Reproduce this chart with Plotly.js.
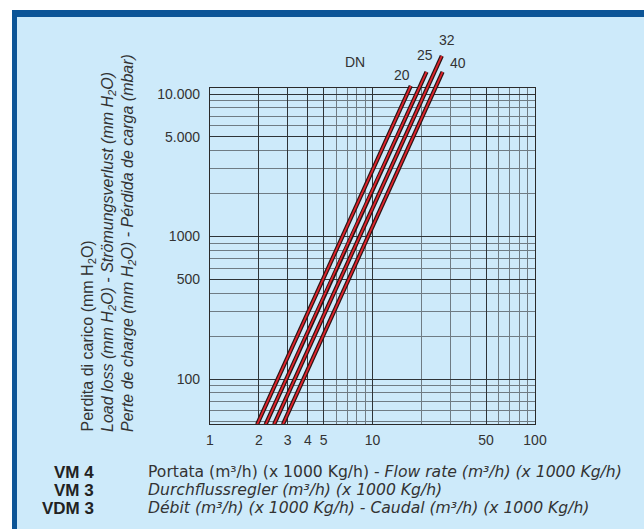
<!DOCTYPE html>
<html>
<head>
<meta charset="utf-8">
<script src="https://cdn.plot.ly/plotly-3.0.1.min.js"></script>
<style>html,body{margin:0;padding:0;background:#fff;}#chart{width:644px;height:529px;}</style>
</head>
<body>
<div id="chart"></div>
<script>
// Flow rate (m3/h), with the matching load loss (mm H2O)
const flowDN20 = [1.95, 5.71, 17.2];
const lossDN20 = [48, 718, 11380];
const flowDN25 = [2.20, 6.46, 21.5];
const lossDN25 = [48, 718, 14270];
const flowDN32 = [2.48, 7.27, 26.7];
const lossDN32 = [48, 718, 18480];
const flowDN40 = [2.81, 8.26, 27.0];
const lossDN40 = [48, 718, 14270];

const dnNames = ['20', '25', '32', '40'];
const xTickVals = [1, 2, 3, 4, 5, 10, 50, 100];
const xTickText = ['1', '2', '3', '4', '5', '10', '50', '100'];
const yTickVals = [100, 500, 1000, 5000, 10000];
const yTickText = ['100', '500', '1000', '5.000', '10.000'];

const curves = [
  {x: flowDN20, y: lossDN20, name: dnNames[0], lx: -9, ly: 11},
  {x: flowDN25, y: lossDN25, name: dnNames[1], lx: -2, ly: 17},
  {x: flowDN32, y: lossDN32, name: dnNames[2], lx: 5, ly: 16},
  {x: flowDN40, y: lossDN40, name: dnNames[3], lx: 15, ly: 9}
];

const FONT = 'Liberation Sans, Arial, Helvetica, sans-serif';
const WIDE = 'DejaVu Sans, Liberation Sans, Arial, sans-serif';
const W = 644, H = 529;
const px = v => v / W;
const py = v => 1 - v / H;

const traces = [];
curves.forEach(c => {
  traces.push({x: c.x, y: c.y, xaxis: 'x2', yaxis: 'y2', mode: 'lines', type: 'scatter',
    line: {color: '#2a1414', width: 4.2}, hoverinfo: 'skip', showlegend: false});
});
curves.forEach(c => {
  traces.push({x: c.x, y: c.y, xaxis: 'x2', yaxis: 'y2', mode: 'lines', type: 'scatter',
    line: {color: '#e0242c', width: 1.8}, name: 'DN ' + c.name, showlegend: false});
});
// invisible trace to instantiate the grid subplot
traces.push({x: [1, 100], y: [100, 10000], xaxis: 'x', yaxis: 'y', mode: 'markers',
  marker: {opacity: 0}, hoverinfo: 'skip', showlegend: false});

const annotations = [];
curves.forEach(c => {
  annotations.push({xref: 'x2', yref: 'y2', x: Math.log10(c.x[c.x.length - 1]), y: Math.log10(c.y[c.y.length - 1]),
    text: c.name, showarrow: false, xshift: c.lx, yshift: c.ly,
    font: {family: FONT, size: 14, color: '#333'}});
});
annotations.push({xref: 'paper', yref: 'paper', x: px(355), y: py(52), text: 'DN', showarrow: false,
  font: {family: FONT, size: 14, color: '#333'}});

const yTitles = [
  'Perdita di carico (mm H<sub>2</sub>O)',
  '<i>Load loss (mm H<sub>2</sub>O) - Strömungsverlust (mm H<sub>2</sub>O)</i>',
  '<i>Perte de charge (mm H<sub>2</sub>O) - Pérdida de carga (mbar)</i>'
];
yTitles.forEach((t, i) => {
  annotations.push({xref: 'paper', yref: 'paper', x: px(88 + 20 * i), y: py(434), xanchor: 'center', yanchor: 'bottom',
    text: t, textangle: -90, showarrow: false, font: {family: FONT, size: 16, color: '#333'}});
});

const codes = ['VM 4', 'VM 3', 'VDM 3'];
const xTitles = [
  'Portata (m³/h) (x 1000 Kg/h) - <i>Flow rate (m³/h) (x 1000 Kg/h)</i>',
  '<i>Durchflussregler (m³/h) (x 1000 Kg/h)</i>',
  '<i>Débit (m³/h) (x 1000 Kg/h) - Caudal (m³/h) (x 1000 Kg/h)</i>'
];
codes.forEach((t, i) => {
  annotations.push({xref: 'paper', yref: 'paper', x: px(96), y: py(472 + 18 * i), xanchor: 'right', yanchor: 'middle',
    text: '<b>' + t + '</b>', showarrow: false, font: {family: FONT, size: 17, color: '#222'}});
  annotations.push({xref: 'paper', yref: 'paper', x: px(146), y: py(472 + 18 * i), xanchor: 'left', yanchor: 'middle',
    text: xTitles[i], showarrow: false, font: {family: WIDE, size: 15.6, color: '#333'}});
});

const xDom = [px(210), px(535)];
const layout = {
  width: W, height: H,
  margin: {l: 0, r: 0, t: 0, b: 0},
  paper_bgcolor: '#ffffff',
  plot_bgcolor: 'rgba(0,0,0,0)',
  showlegend: false,
  shapes: [
    {type: 'rect', xref: 'paper', yref: 'paper', x0: px(12), x1: 1.01, y0: -0.01, y1: py(10),
      fillcolor: '#0c5597', line: {width: 0}, layer: 'below'},
    {type: 'rect', xref: 'paper', yref: 'paper', x0: px(17), x1: 1.01, y0: -0.01, y1: py(17),
      fillcolor: '#cdeafa', line: {width: 0}, layer: 'below'}
  ],
  xaxis: {
    type: 'log', range: [0, 2], domain: xDom, anchor: 'y',
    tickmode: 'array', tickvals: xTickVals, ticktext: xTickText,
    showgrid: true, gridcolor: '#2e3438', gridwidth: 1,
    minor: {dtick: 'D1', showgrid: true, gridcolor: '#6f7c84', gridwidth: 1, ticks: ''},
    showline: true, linecolor: '#2a2a2a', linewidth: 1.2, mirror: true,
    ticks: '', zeroline: false, fixedrange: true, ticklabelstandoff: 3,
    tickfont: {family: FONT, size: 14, color: '#333'}
  },
  yaxis: {
    type: 'log', range: [1.6842, 4.0421], domain: [py(424), py(88)], anchor: 'x',
    tickmode: 'array', tickvals: yTickVals, ticktext: yTickText,
    showgrid: true, gridcolor: '#2e3438', gridwidth: 1,
    minor: {dtick: 'D1', showgrid: true, gridcolor: '#6f7c84', gridwidth: 1, ticks: ''},
    showline: true, linecolor: '#2a2a2a', linewidth: 1.2, mirror: true,
    ticks: '', zeroline: false, fixedrange: true, ticklabelstandoff: 6,
    tickfont: {family: FONT, size: 14, color: '#333'}
  },
  xaxis2: {type: 'log', range: [0, 2], domain: xDom, anchor: 'y2', visible: false, showgrid: false, fixedrange: true},
  yaxis2: {type: 'log', range: [1.6842, 4.3789], domain: [py(424), py(40)], anchor: 'x2', visible: false, showgrid: false, fixedrange: true},
  annotations: annotations
};

Plotly.newPlot('chart', traces, layout, {displayModeBar: false, staticPlot: true});
</script>
</body>
</html>
